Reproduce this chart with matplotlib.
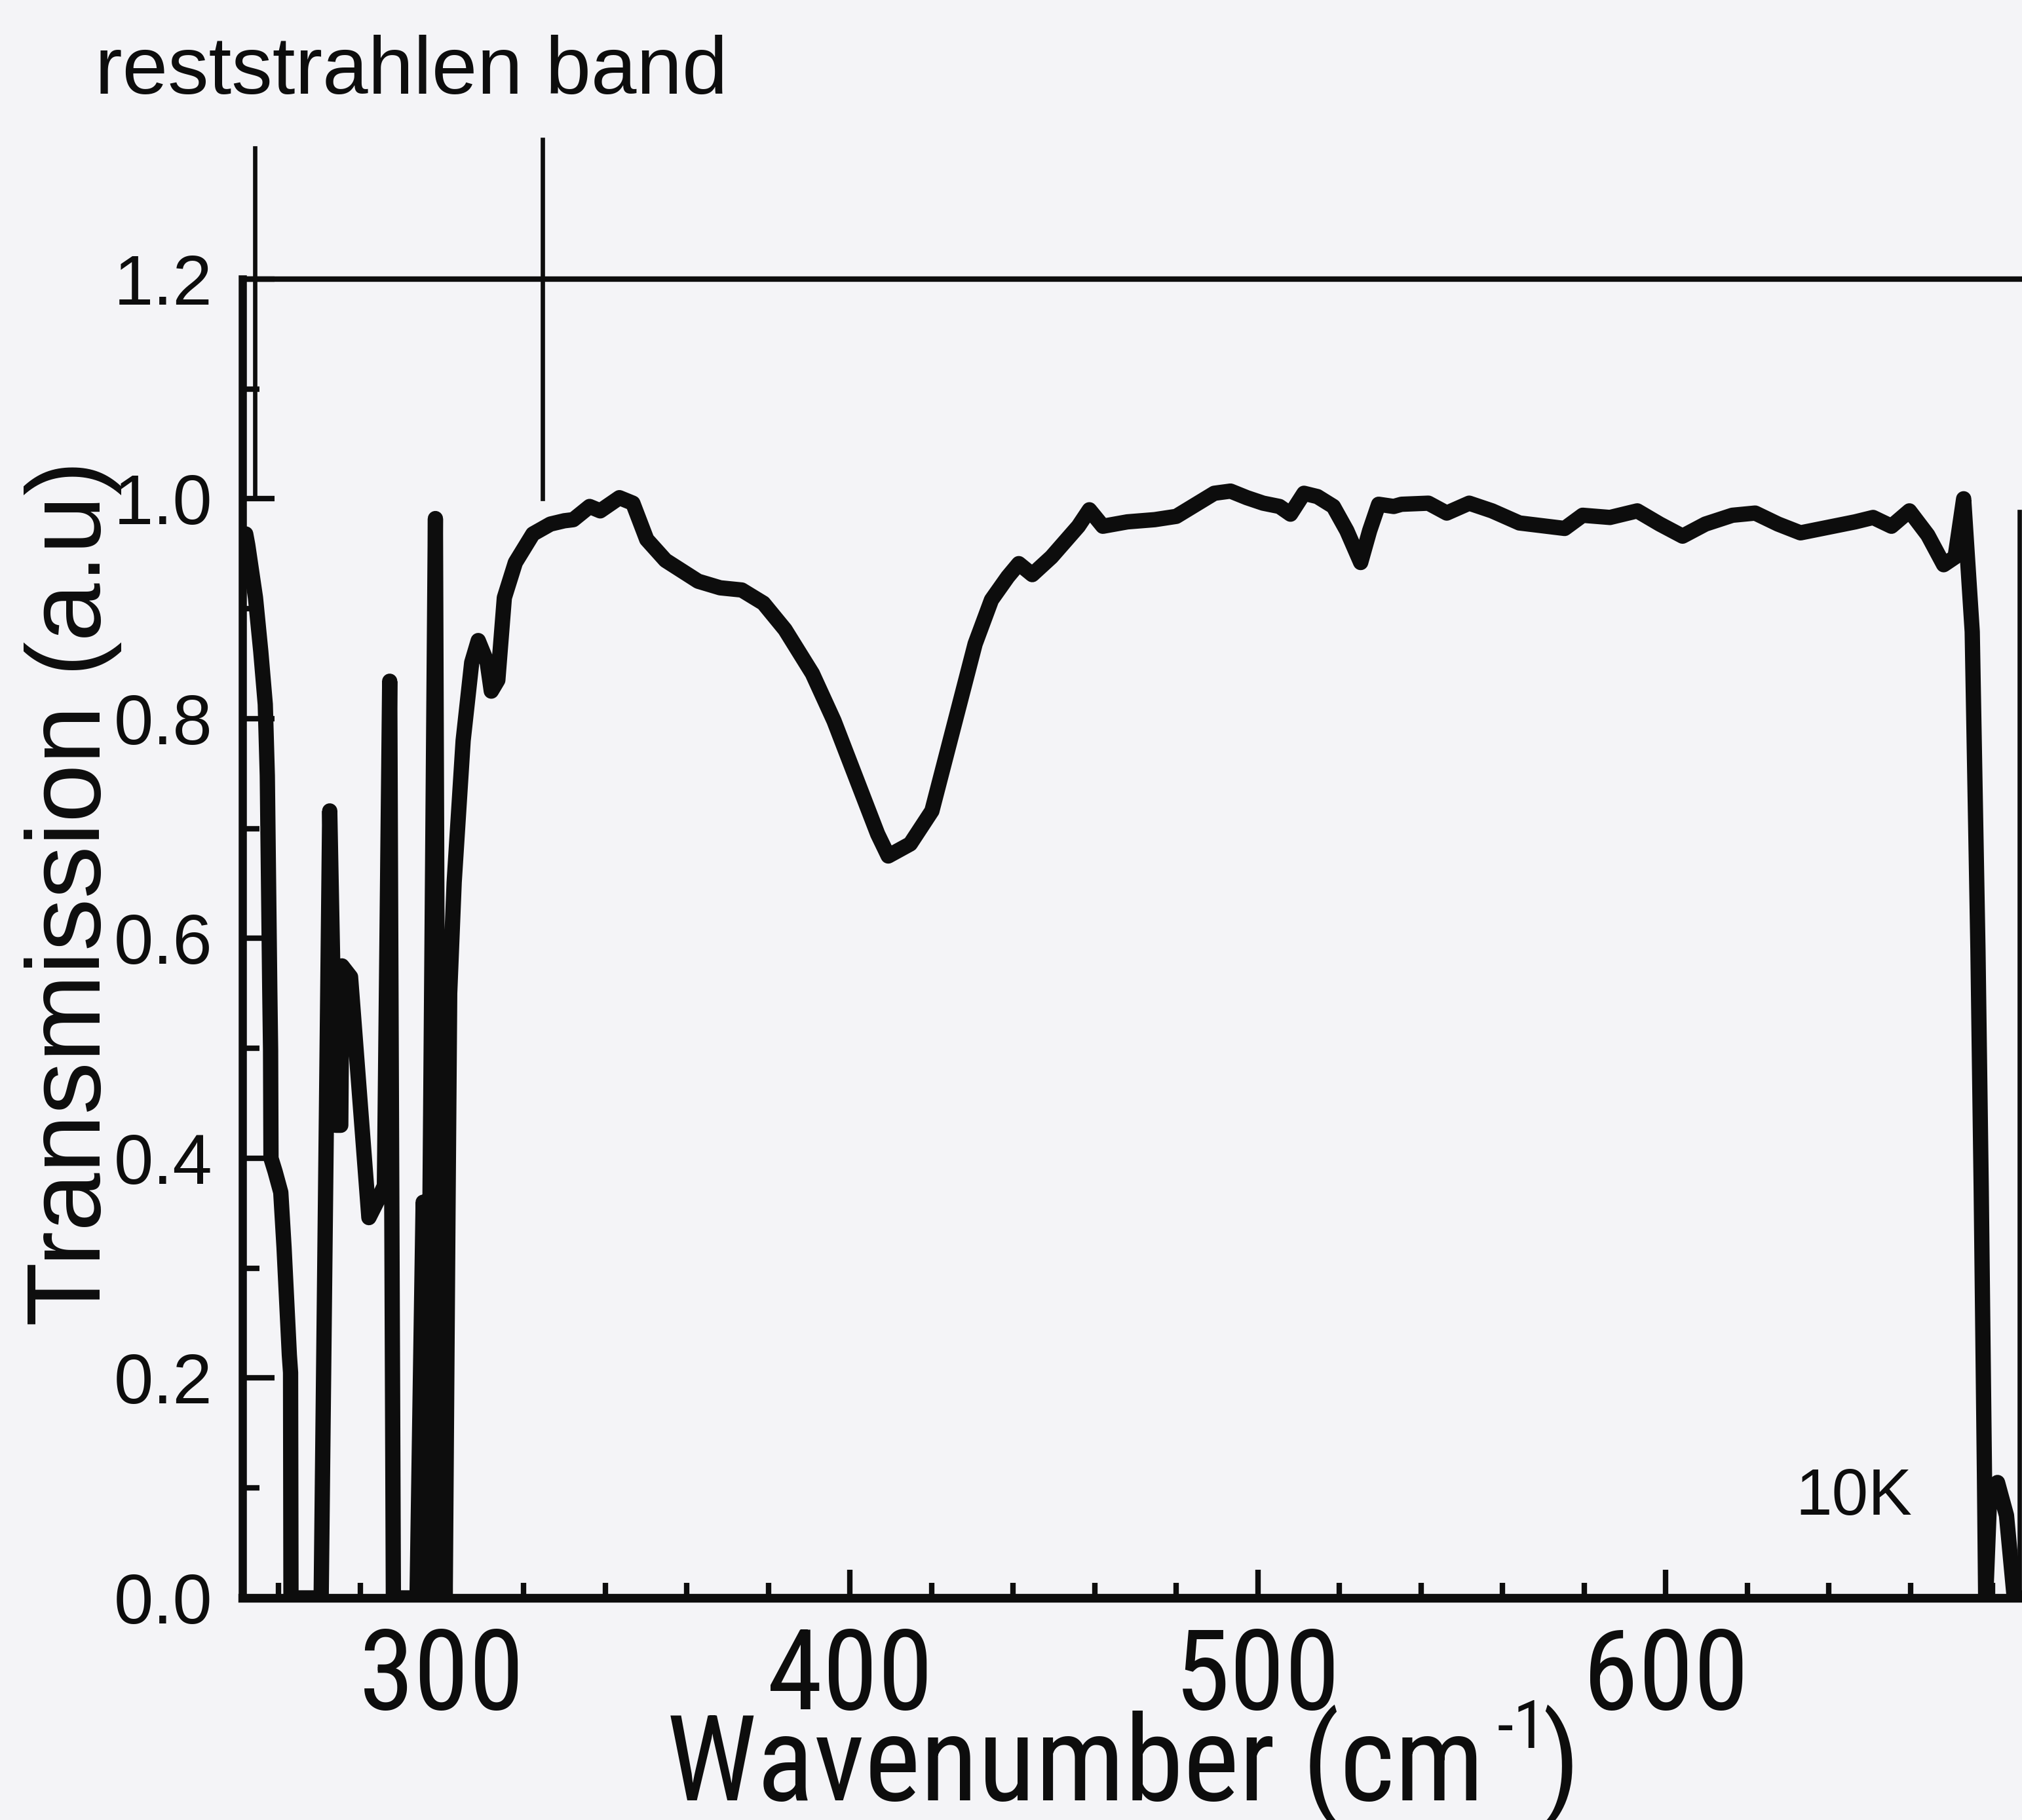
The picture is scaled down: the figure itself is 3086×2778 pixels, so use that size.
import matplotlib
matplotlib.use("Agg")
import matplotlib.pyplot as plt
from matplotlib import font_manager
from matplotlib.font_manager import FontProperties
from matplotlib.ticker import FixedLocator, FormatStrFormatter

wavenumber = [
    251.9, 252.4, 254.3, 255.6, 256.7, 257.2, 257.5, 257.8, 258.0, 258.1, 259.1, 260.5,
    261.3, 262.6, 262.9, 263.0,
    270.4, 272.5, 274.0, 275.2, 275.5, 277.6, 282.1, 284.0, 285.9, 287.2, 288.1,
    293.9, 295.4, 296.3, 298.4, 299.4, 300.2, 300.8, 301.5, 301.9, 303.0, 305.2, 307.3,
    308.9, 311.1, 312.1, 313.7, 315.3, 318.0, 322.3, 326.6, 330.0, 332.2, 336.2, 338.8,
    343.5, 346.8, 350.2, 354.8, 362.8, 368.2, 373.5, 378.8, 384.1, 390.8, 396.1, 401.4,
    406.8, 409.4, 414.8, 420.1, 425.4, 430.7, 434.7, 438.7, 441.4, 444.7, 449.4, 456.0,
    458.7, 462.0, 468.0, 474.7, 480.0, 484.0, 489.3, 493.3, 497.3, 501.3, 505.3, 508.0,
    511.3, 514.6, 518.5, 521.8, 525.2, 527.4, 529.6, 533.3, 535.2, 541.8, 546.3, 551.8,
    557.4, 564.1, 570.7, 575.2, 579.6, 586.3, 593.0, 598.5, 604.1, 609.7, 616.3, 621.9,
    627.5, 633.0, 639.7, 646.4, 650.8, 655.3, 659.7, 664.2, 668.1, 670.9, 673.0, 675.1,
    676.5, 677.3, 678.1, 678.4, 679.4, 681.3, 683.5, 685.4, 687.5,
]
transmission = [
    0.968, 0.958, 0.910, 0.861, 0.813, 0.748, 0.651, 0.554, 0.499, 0.400, 0.388, 0.369,
    0.319, 0.221, 0.205, 0.000,
    0.000, 0.716, 0.430, 0.430, 0.575, 0.565, 0.346, 0.360, 0.375, 0.834, 0.000,
    0.000, 0.360, 0.000, 0.982, 0.000, 0.330, 0.000, 0.360, 0.550, 0.651, 0.780, 0.851,
    0.871, 0.851, 0.825, 0.835, 0.910, 0.942, 0.968, 0.977, 0.980, 0.981, 0.993, 0.989,
    1.001, 0.996, 0.963, 0.944, 0.925, 0.919, 0.917, 0.905, 0.881, 0.841, 0.798, 0.747,
    0.695, 0.675, 0.686, 0.716, 0.792, 0.868, 0.908, 0.929, 0.941, 0.931, 0.947, 0.975,
    0.990, 0.975, 0.979, 0.981, 0.984, 0.993, 1.005, 1.007, 1.001, 0.996, 0.993, 0.986,
    1.005, 1.002, 0.993, 0.971, 0.942, 0.971, 0.995, 0.993, 0.995, 0.996, 0.987, 0.996,
    0.989, 0.978, 0.975, 0.973, 0.985, 0.983, 0.989, 0.977, 0.966, 0.977, 0.985, 0.987,
    0.977, 0.969, 0.974, 0.979, 0.983, 0.975, 0.989, 0.967, 0.940, 0.947, 1.000, 0.879,
    0.590, 0.373, 0.112, 0.000, 0.095, 0.105, 0.075, 0.000, 0.000,
]

band_edges = [254.1, 324.6]      # reststrahlen band markers
band_tops = [1.319, 1.327]
band_bottom = 1.0
edge_x = 686.7                   # thin line at the right border
edge_top = 0.988

x_major = [300, 400, 500, 600]
x_minor = [260, 280, 320, 340, 360, 380, 420, 440, 460, 480,
           520, 540, 560, 580, 620, 640, 660, 680]
y_major = [0.0, 0.2, 0.4, 0.6, 0.8, 1.0, 1.2]
y_minor = [0.1, 0.3, 0.5, 0.7, 0.9, 1.1]

bg = "#f4f4f7"
ink = "#0d0d0d"

# narrow sans face for the x axis texts (the original uses a squeezed Arial)
faces = {}
for f in font_manager.fontManager.ttflist:
    if f.style == "normal" and f.weight in (400, "normal", "regular"):
        faces.setdefault((f.name, str(f.stretch)), f.fname)
narrow_path = None
for name in ["Liberation Sans Narrow", "Arial Narrow", "Roboto Condensed",
             "Archivo Narrow", "PT Sans Narrow", "Barlow Semi Condensed"]:
    hits = [p for (n, st), p in faces.items() if n == name]
    if hits:
        narrow_path = hits[0]
        break


def xfont(size):
    if narrow_path:
        return FontProperties(fname=narrow_path, size=size)
    return FontProperties(family=["Liberation Sans", "DejaVu Sans"], size=size)


plt.rcParams["font.family"] = ["Liberation Sans", "DejaVu Sans"]

W, H = 3086, 2778
fig = plt.figure(figsize=(W / 300, H / 300), dpi=300, facecolor=bg)
rend = fig.canvas.get_renderer()


def fit(text, props, target_px, **kw):
    probe = fig.text(0, 0, text, fontproperties=props, **kw)
    w = probe.get_window_extent(renderer=rend).width
    probe.remove()
    return props.get_size() * target_px / w


xtick_size = fit("300", xfont(20), 253)
xlabel_size = fit("Wavenumber (cm", xfont(20), 1249)
xsup_size = fit("-1", xfont(20), 76)

ax = fig.add_axes([370 / W, 339 / H, 1 - 370 / W, 0.7247], facecolor=bg)

ax.plot(wavenumber, transmission, color=ink, lw=5.6,
        solid_joinstyle="round", solid_capstyle="round", zorder=3)
ax.plot([edge_x, edge_x], [0, edge_top], color=ink, lw=1.6, zorder=3)
for x, top in zip(band_edges, band_tops):
    ax.plot([x, x], [band_bottom, top], color=ink, lw=1.6, clip_on=False, zorder=4)

ax.set_xlim(251.1, 687.3)
ax.set_ylim(0, 1.2)

ax.spines["right"].set_visible(False)
ax.spines["left"].set_linewidth(3.0)
ax.spines["bottom"].set_linewidth(3.2)
ax.spines["top"].set_linewidth(2.0)
for s in ax.spines.values():
    s.set_color(ink)

ax.xaxis.set_major_locator(FixedLocator(x_major))
ax.xaxis.set_minor_locator(FixedLocator(x_minor))
ax.yaxis.set_major_locator(FixedLocator(y_major))
ax.yaxis.set_minor_locator(FixedLocator(y_minor))
ax.yaxis.set_major_formatter(FormatStrFormatter("%.1f"))

ax.tick_params(axis="x", which="major", direction="in", length=10.3, width=2.0,
               color=ink, pad=10, labelcolor=ink, top=False)
ax.tick_params(axis="x", which="minor", direction="in", length=5.5, width=2.0,
               color=ink, top=False)
ax.tick_params(axis="y", which="major", direction="in", length=11.8, width=2.0,
               color=ink, pad=11, labelsize=26, labelcolor=ink, right=False)
ax.tick_params(axis="y", which="minor", direction="in", length=6.2, width=2.0,
               color=ink, right=False)
for lab in ax.get_xticklabels():
    lab.set_fontproperties(xfont(xtick_size))

# x label built in pieces so the exponent sits like the original
t_main = fig.text(1017 / W, 1 - 2747 / H, "Wavenumber (cm", fontproperties=xfont(xlabel_size),
                  color=ink, ha="left", va="baseline")
bb = t_main.get_window_extent(renderer=rend)
t_sup = fig.text((bb.x1 + 20) / W, 1 - 2668 / H, "-1", fontproperties=xfont(xsup_size),
                 color=ink, ha="left", va="baseline")
bb2 = t_sup.get_window_extent(renderer=rend)
fig.text((bb2.x1 - 8) / W, 1 - 2747 / H, ")", fontproperties=xfont(xlabel_size),
         color=ink, ha="left", va="baseline")

fig.text(153 / W, 1 - 1363 / H, "Transmission (a.u)", fontsize=38.5, color=ink,
         rotation=90, rotation_mode="anchor", ha="center", va="baseline")
fig.text(145 / W, 1 - 143 / H, "reststrahlen band", fontsize=30, color=ink,
         ha="left", va="baseline")
fig.text(2740 / W, 1 - 2312 / H, "10K", fontsize=24, color=ink,
         ha="left", va="baseline")

fig.savefig("out.png", dpi=300, facecolor=bg)
